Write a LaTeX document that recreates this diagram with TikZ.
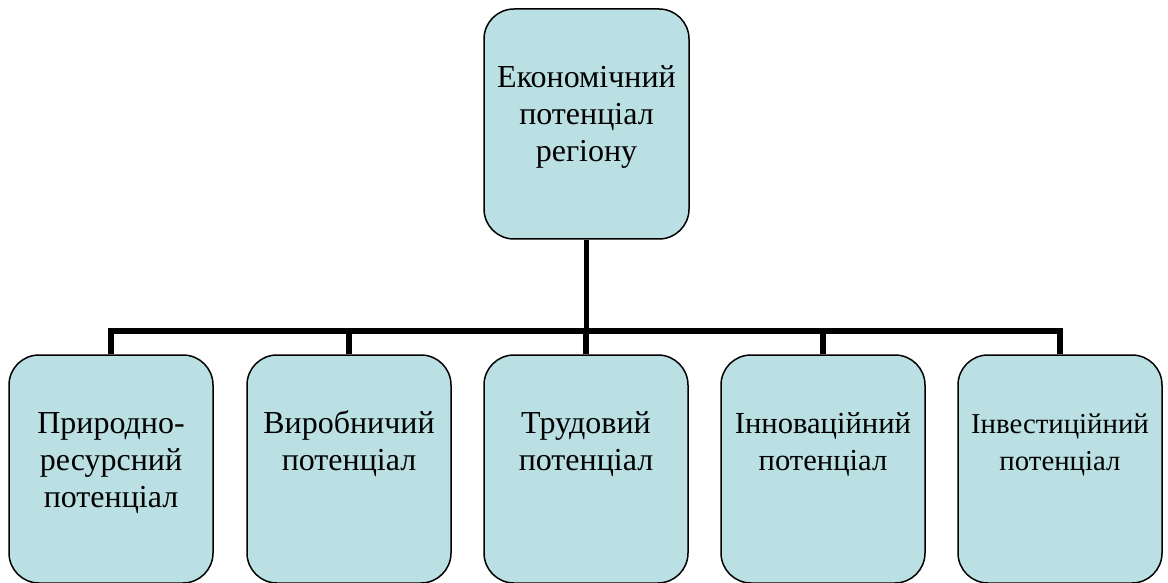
\documentclass[tikz,border=0pt]{standalone}
\usepackage{fontspec}
\setmainfont{Liberation Serif}
\newfontfamily\cellfont{Liberation Serif}
\definecolor{boxblue}{RGB}{187,224,227}
\newcommand{\celltext}[2][32]{\parbox[c][228pt][t]{200pt}{\centering\cellfont\fontsize{#1}{37}\selectfont\rule{0pt}{78pt}#2}}

\begin{document}
\begin{tikzpicture}[x=1pt, y=1pt,
	cell/.style={draw, line width=1.5pt, fill=boxblue, rounded corners=30pt, inner sep=0pt, minimum width=204pt, minimum height=228pt},
	link/.style={line width=5.5pt}]
		\useasboundingbox (0,0) rectangle (1168,582);
		
		\node[cell, minimum width=205pt, minimum height=230pt] (E) at (586.5,458) {\celltext{Економічний\\ потенціал\\ регіону}};
		\node[cell] (P) at (111,113) {\celltext{Природно-\\ ресурсний\\ потенціал}};
		\node[cell] (V) at (349,113) {\celltext{Виробничий\\ потенціал}};
		\node[cell] (T) at (586,113) {\celltext{Трудовий\\ потенціал}};
		\node[cell] (I) at (823,113) {\celltext[30.6]{Інноваційний\\ потенціал}};
		\node[cell] (N) at (1060,113) {\celltext[28.8]{Інвестиційний\\ потенціал}};
		
		\coordinate (bus) at (586.5,251);
		\draw[link] (E.south) -- (bus);
		\draw[link] (P.north) |- (bus) -| (N.north);
		\draw[link] (V.north) -- (V.north |- bus);
		\draw[link] (T.north) -- (T.north |- bus);
		\draw[link] (I.north) -- (I.north |- bus);
\end{tikzpicture}
\end{document}
